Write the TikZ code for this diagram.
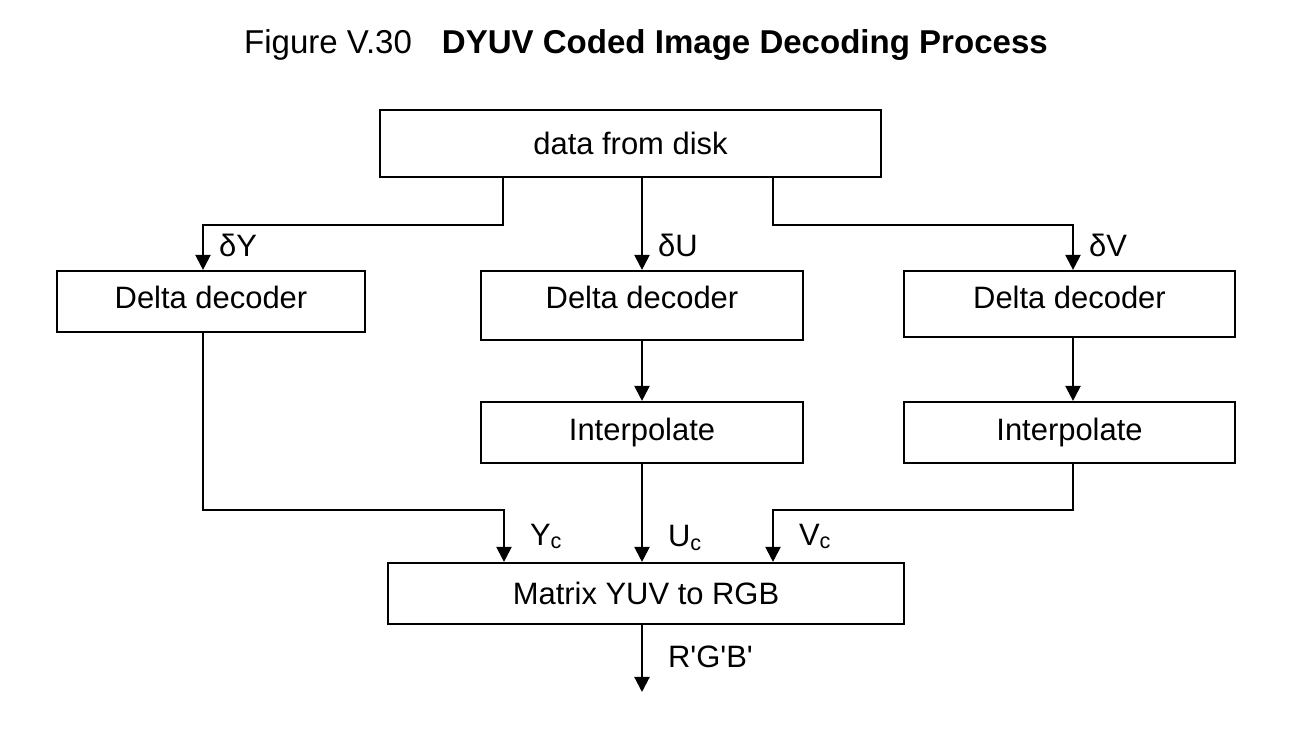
\documentclass[tikz,border=0pt]{standalone}
\usepackage{fontspec}
\newfontfamily\diagfont{Liberation Sans}
\usetikzlibrary{arrows.meta}
\tikzset{>={Triangle[length=1.5mm,width=1.5mm]}}

\begin{document}
\begin{tikzpicture}[line width=0.6pt,
    block/.style={draw,rectangle,inner sep=0pt,font=\diagfont\fontsize{8.8}{10}\selectfont},
    sig/.style={anchor=west,inner sep=0pt,xshift=1.5mm,text height=1.7ex,text depth=0.5ex,
      font=\diagfont\fontsize{8.8}{10}\selectfont}]
  \useasboundingbox (0,0) rectangle (12.95,-7.31);

  % title
  \node[font=\diagfont\fontsize{9.4}{11}\selectfont] (title) at (6.46,-0.45)
    {Figure V.30\hspace{0.3cm}\textbf{DYUV Coded Image Decoding Process}};

  % boxes (placed at their text baseline)
  \node[block,anchor=base,minimum width=5.01cm,text height=0.45cm,text depth=0.22cm] (disk) at (6.305,-1.55) {data from disk};
  \node[block,anchor=base,minimum width=3.08cm,text height=0.38cm,text depth=0.23cm] (dlY) at (2.11,-3.09) {Delta decoder};
  \node[block,anchor=base,minimum width=3.22cm,text height=0.38cm,text depth=0.31cm] (dlU) at (6.42,-3.09) {Delta decoder};
  \node[block,anchor=base,minimum width=3.31cm,text height=0.38cm,text depth=0.28cm] (dlV) at (10.695,-3.09) {Delta decoder};
  \node[block,minimum width=3.22cm,minimum height=0.61cm] (ipU) at (6.42,-4.325) {Interpolate};
  \node[block,minimum width=3.31cm,minimum height=0.61cm] (ipV) at (10.695,-4.325) {Interpolate};
  \node[block,minimum width=5.16cm,minimum height=0.61cm] (mtx) at (6.46,-5.935) {Matrix YUV to RGB};
  \coordinate (out) at (6.42,-6.92);

  % from disk to the decoders
  \draw[->] ([xshift=-1.275cm]disk.south) -- ++(0,-0.47) -| ([xshift=-0.08cm]dlY.north) node[pos=0.75,sig] {δY};
  \draw[->] (disk.south -| dlU.north) -- (dlU.north) node[pos=0.75,sig] {δU};
  \draw[->] ([xshift=1.425cm]disk.south) -- ++(0,-0.47) -| ([xshift=0.035cm]dlV.north) node[pos=0.75,sig] {δV};

  % decoders to interpolation
  \draw[->] (dlU.south) -- (ipU.north);
  \draw[->] ([xshift=0.035cm]dlV.south) -- ([xshift=0.035cm]ipV.north);

  % into the matrix
  \draw[->] ([xshift=-0.08cm]dlY.south) -- ++(0,-1.77) -| ([xshift=-1.42cm]mtx.north) node[pos=0.75,sig,xshift=1mm] {Y\textsubscript{c}};
  \draw[->] (ipU.south) -- (ipU.south |- mtx.north) node[pos=0.75,sig,xshift=1mm] {U\textsubscript{c}};
  \draw[->] ([xshift=0.035cm]ipV.south) -- ++(0,-0.46) -| ([xshift=1.27cm]mtx.north) node[pos=0.75,sig,xshift=1mm] {V\textsubscript{c}};

  % output
  \draw[->] (mtx.south -| out) -- (out) node[midway,sig,xshift=1mm] {R'G'B'};
\end{tikzpicture}
\end{document}
